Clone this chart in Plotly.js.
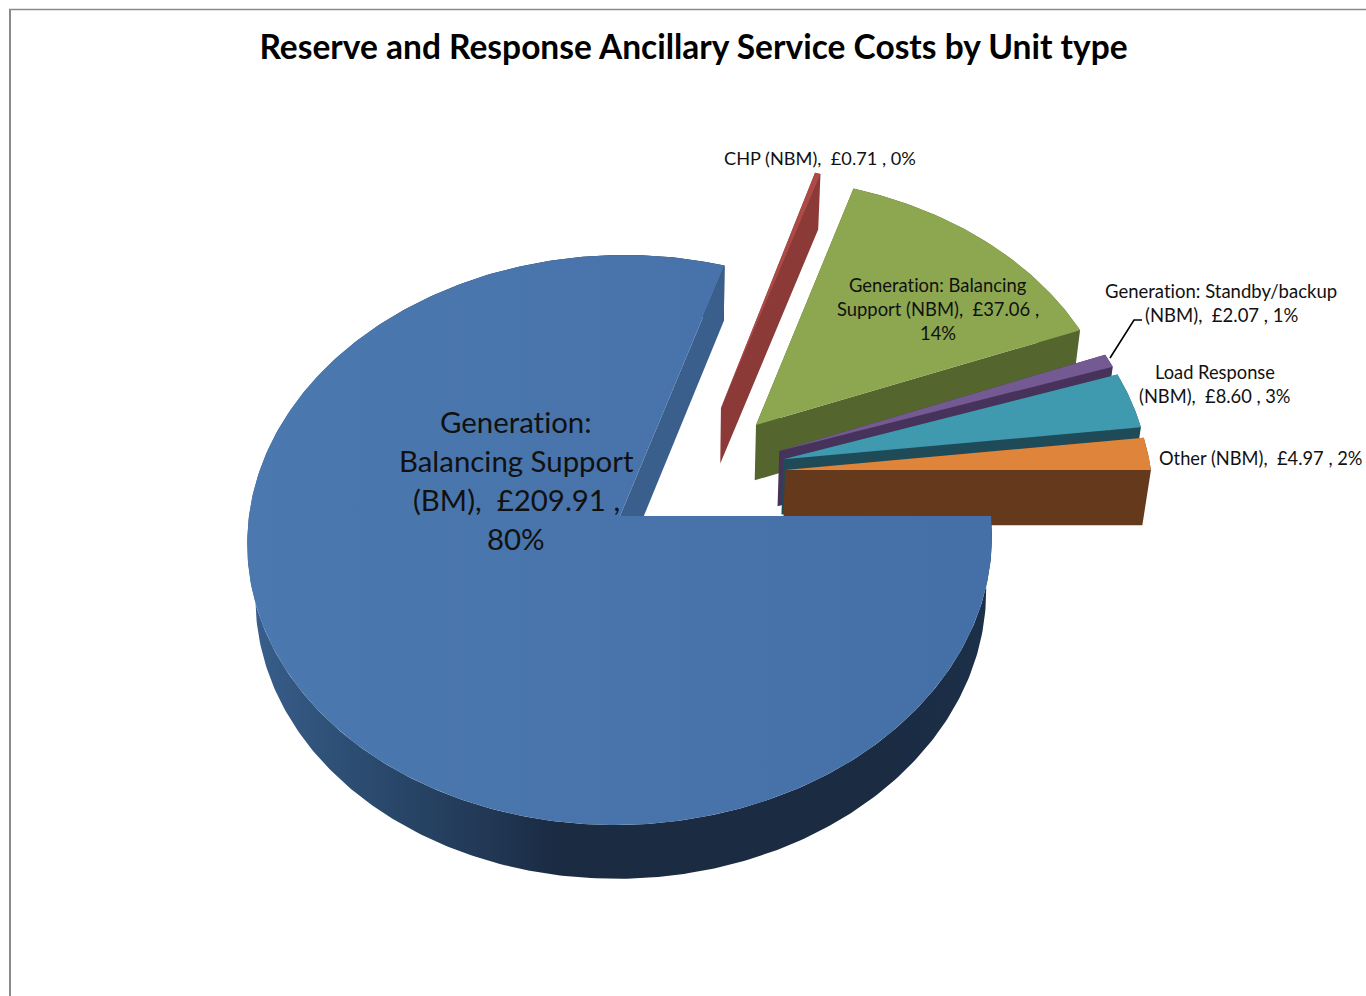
<!DOCTYPE html>
<html>
<head>
<meta charset="utf-8">
<script src="https://cdn.plot.ly/plotly-3.0.1.min.js"></script>
<style>html,body{margin:0;padding:0;background:#fff}#chart{width:1366px;height:996px}text{font-variant-ligatures:none !important}</style>
</head>
<body>
<div id="chart"></div>
<script>
// ---- data ----
const categories = ["Generation: Balancing Support (BM)", "CHP (NBM)", "Generation: Balancing Support (NBM)",
                    "Generation: Standby/backup (NBM)", "Load Response (NBM)", "Other (NBM)"];
const costs = [209.91, 0.71, 37.06, 2.07, 8.60, 4.97];

// ---- styles ----
const topColors  = ["#4874ab", "#ab4a47", "#8ca74f", "#735a93", "#3f9ab0", "#de853b"];
const wallColors = ["#3a5f8d", "#8b3a38", "#55652e", "#46325a", "#1f4b58", "#64391c"];
const explodeX = [0, 0.276, 0.3725, 0.4348, 0.445, 0.4488];
const explodeY = [0, 0.3943, 0.3306, 0.2342, 0.2038, 0.1648];
const drawOrder = [1, 2, 3, 4, 5, 0];

// perspective of the 3-D pie (disc of radius 1, thickness 1)
const cam = {c:620, f:516, a:371, b:57, d:239.5, g:0.0842, e:13, m:66, h:0.019};
function project(X, Y, Z) {
  const den = 1 + cam.g*Y + cam.h*Z;
  return [(cam.c + cam.a*X + cam.b*Y + cam.e*Z)/den, (cam.f - cam.d*Y + cam.m*Z)/den];
}

const total = costs.reduce((s, v) => s + v, 0);
let running = 0;
const slices = costs.map((v, i) => {
  const startDeg = -running/total*360;
  running += v;
  return {i, startDeg, endDeg: -running/total*360, ox: explodeX[i], oy: explodeY[i]};
});

function arc(s, Z) {
  const n = Math.max(2, Math.ceil(Math.abs(s.endDeg - s.startDeg)/0.75));
  const pts = [];
  for (let k = 0; k <= n; k++) {
    const t = (s.startDeg + (s.endDeg - s.startDeg)*k/n)*Math.PI/180;
    pts.push(project(s.ox + Math.cos(t), s.oy + Math.sin(t), Z));
  }
  return pts;
}
const apex = (s, Z) => project(s.ox, s.oy, Z);
function polyTrace(polys, color, gradient) {
  const x = [], y = [];
  polys.forEach(p => {
    p.forEach(q => { x.push(q[0]); y.push(q[1]); });
    x.push(p[0][0]); y.push(p[0][1]);
    x.push(null); y.push(null);
  });
  const t = {type:"scatter", mode:"lines", x, y, fill:"toself", fillcolor:color,
             line:{width:0, color:"rgba(0,0,0,0)"}, hoverinfo:"skip", showlegend:false};
  if (gradient) t.fillgradient = gradient;
  return t;
}

const traces = [];
drawOrder.forEach(idx => {
  const s = slices[idx];
  const top = arc(s, 0), bot = arc(s, 1);
  const first = top[0], last = top[top.length-1], bfirst = bot[0], blast = bot[bot.length-1];
  const wallCutA = [apex(s,0), first, bfirst, apex(s,1)];
  const wallCutB = [apex(s,0), last, blast, apex(s,1)];
  const outer = top.concat(bot.slice().reverse());
  if (idx === 0) {
    traces.push(polyTrace([outer], "#1a2b42", {type:"horizontal", start:246, stop:991, colorscale:[
      [0, "#3a6090"], [0.04, "#355a85"], [0.17, "#2a4a6e"], [0.305, "#233a58"],
      [0.42, "#1a2b42"], [0.85, "#1a2b42"], [1, "#1c3049"]]}));
    traces.push(polyTrace([wallCutB], wallColors[0]));
    traces.push(polyTrace([[apex(s,0)].concat(top)], topColors[0], {type:"horizontal", start:246, stop:991,
      colorscale:[[0, "#4a78af"], [0.5, "#4874ab"], [1, "#4470a7"]]}));
  } else {
    traces.push(polyTrace([outer, wallCutA, wallCutB], wallColors[idx]));
    traces.push(polyTrace([[apex(s,0)].concat(top)], topColors[idx]));
  }
});

// leader line of the standby label
const leaderX = [1110, 1134, 1142], leaderY = [358, 320, 320];
traces.push({type:"scatter", mode:"lines", x:leaderX, y:leaderY, line:{color:"#000", width:1.6},
             hoverinfo:"skip", showlegend:false});

// ---- labels: lines, centre x, first-line y, line pitch, font size ----
const labelFont = "Lato, Carlito, sans-serif";
const labels = [
  {lines:["Generation:", "Balancing Support", "(BM),  £209.91 ,", "80%"], x:516, y:421.5, pitch:39, size:29.4},
  {lines:["CHP (NBM),  £0.71 , 0%"], x:819.5, y:158, pitch:24, size:18.2},
  {lines:["Generation: Balancing", "Support (NBM),  £37.06 ,", "14%"], x:938, y:285, pitch:24, size:18.4},
  {lines:["Generation: Standby/backup", "(NBM),  £2.07 , 1%"], x:1221, y:291, pitch:24, size:18.5},
  {lines:["Load Response", "(NBM),  £8.60 , 3%"], x:1215, y:372, pitch:24, size:18.3},
  {lines:["Other (NBM),  £4.97 , 2%"], x:1260, y:458, pitch:24, size:18.3}
];
const annotations = [];
labels.forEach(l => l.lines.forEach((txt, k) => annotations.push({
  xref:"x", yref:"y", x:l.x, y:l.y + k*l.pitch, text:txt, showarrow:false,
  xanchor:"center", yanchor:"middle", font:{family:labelFont, size:l.size, color:"#111"}
})));

const layout = {
  width:1366, height:996, margin:{l:0, r:0, t:0, b:0},
  paper_bgcolor:"#fff", plot_bgcolor:"#fff", showlegend:false,
  title:{text:"<b>Reserve and Response Ancillary Service Costs by Unit type</b>",
         x:693.5/1366, xanchor:"center", xref:"paper", y:1-47.5/996, yanchor:"middle", yref:"container",
         font:{family:labelFont, size:33.5, color:"#000"}},
  xaxis:{range:[0,1366], visible:false, fixedrange:true},
  yaxis:{range:[996,0], visible:false, fixedrange:true},
  annotations,
  shapes:[
    {type:"line", xref:"x", yref:"y", x0:10, x1:10, y0:9, y1:996, line:{color:"#8a8a8a", width:2}},
    {type:"line", xref:"x", yref:"y", x0:9, x1:1366, y0:9.5, y1:9.5, line:{color:"#8a8a8a", width:1.5}}
  ]
};
Plotly.newPlot("chart", traces, layout, {displayModeBar:false, staticPlot:true});
</script>
</body>
</html>
